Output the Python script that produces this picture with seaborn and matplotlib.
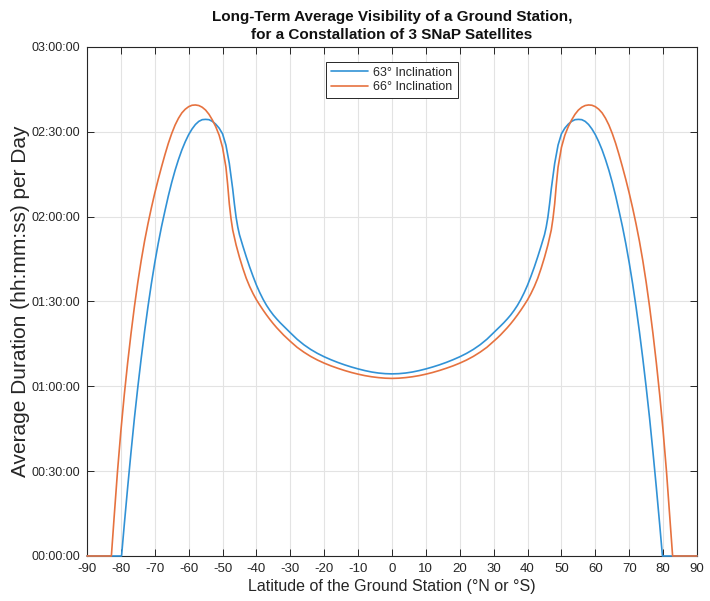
import matplotlib
matplotlib.use('Agg')
import matplotlib.pyplot as plt
import pandas as pd
import seaborn as sns

# Latitude of the ground station (deg) and average daily visibility (minutes)
# 63 deg inclination, southern half (incl. equator)
lat_63_s = ([-90, -79.8] + list(range(-79, -46)) + [-46.5, -46, -45.5]
            + list(range(-45, -29)) + list(range(-28, 1, 2)))
min_63_s = [0, 0,
            11.0, 24.2, 36.8, 48.8, 59.7, 69.9, 79.4, 88.2, 96.3, 103.7, 110.4, 116.5,
            122.0, 127.3, 132.1, 136.4, 140.2, 143.6, 146.5, 149.0, 151.0, 152.6, 153.7,
            154.3, 154.4, 154.3, 153.7, 152.7, 151.3, 149.3, 145.3, 138.8, 129.8,
            124.5, 119.8, 116.3,
            113.6, 109.6, 105.8, 102.2, 98.9, 95.8, 93.1, 90.7, 88.6, 86.8, 85.2, 83.8,
            82.5, 81.3, 80.1, 78.95,
            76.65, 74.7, 73.05, 71.65, 70.45, 69.4, 68.45, 67.6, 66.84, 66.16, 65.56,
            65.06, 64.7, 64.48, 64.4]
# 63 deg inclination, northern half
lat_63_n = (list(range(2, 29, 2)) + list(range(30, 46)) + [45.5, 46, 46.5]
            + list(range(47, 80)) + [79.8, 90])
min_63_n = [64.48, 64.7, 65.06, 65.56, 66.16, 66.84, 67.6, 68.45, 69.4, 70.45, 71.65,
            73.05, 74.7, 76.65,
            78.95, 80.1, 81.3, 82.5, 83.8, 85.2, 86.8, 88.6, 90.7, 93.1, 95.8, 98.9,
            102.2, 105.8, 109.6, 113.6,
            116.3, 119.8, 124.5,
            129.8, 138.8, 145.3, 149.3, 151.3, 152.7, 153.7, 154.3, 154.4, 154.3, 153.7,
            152.6, 151.0, 149.0, 146.5, 143.6, 140.2, 136.4, 132.1, 127.3, 122.0, 116.5,
            110.4, 103.7, 96.3, 88.2, 79.4, 69.9, 59.7, 48.8, 36.8, 24.2, 11.0,
            0, 0]

# 66 deg inclination, southern half (incl. equator)
lat_66_s = ([-90, -82.8] + list(range(-82, -48)) + [-48.5, -48, -47.5, -47]
            + list(range(-46, -29)) + list(range(-28, 1, 2)))
min_66_s = [0, 0,
            13.5, 29.8, 44.2, 56.9, 68.3, 78.7, 88.2, 96.8, 104.5, 111.4, 117.5, 123.1,
            128.3, 133.1, 137.6, 141.9, 145.9, 149.4, 152.4, 154.8, 156.7, 158.0, 158.9,
            159.4, 159.5, 159.3, 158.7, 157.7, 156.2, 154.2, 151.8, 148.8, 144.5, 137.5,
            131.5, 124.5, 119.3, 115.3,
            110.0, 105.6, 101.7, 98.2, 95.3, 92.8, 90.6, 88.7, 86.9, 85.2, 83.6, 82.1,
            80.7, 79.4, 78.15, 77.0, 75.9,
            73.8, 72.08, 70.58, 69.3, 68.2, 67.23, 66.38, 65.6, 64.9, 64.3, 63.78,
            63.38, 63.08, 62.88, 62.8]
# 66 deg inclination, northern half
lat_66_n = (list(range(2, 29, 2)) + list(range(30, 47)) + [47, 47.5, 48, 48.5]
            + list(range(49, 83)) + [82.8, 90])
min_66_n = [62.88, 63.08, 63.38, 63.78, 64.3, 64.9, 65.6, 66.38, 67.23, 68.2, 69.3,
            70.58, 72.08, 73.8,
            75.9, 77.0, 78.15, 79.4, 80.7, 82.1, 83.6, 85.2, 86.9, 88.7, 90.6, 92.8,
            95.3, 98.2, 101.7, 105.6, 110.0,
            115.3, 119.3, 124.5, 131.5,
            137.5, 144.5, 148.8, 151.8, 154.2, 156.2, 157.7, 158.7, 159.3, 159.5, 159.4,
            158.9, 158.0, 156.7, 154.8, 152.4, 149.4, 145.9, 141.9, 137.6, 133.1, 128.3,
            123.1, 117.5, 111.4, 104.5, 96.8, 88.2, 78.7, 68.3, 56.9, 44.2, 29.8, 13.5,
            0, 0]

series_names = ['63\u00b0 Inclination', '66\u00b0 Inclination']
line_colors = ['#3192d6', '#e6723f']

x_ticks = list(range(-90, 91, 10))
y_ticks = [0, 30, 60, 90, 120, 150, 180]
y_tick_labels = ['00:00:00', '00:30:00', '01:00:00', '01:30:00',
                 '02:00:00', '02:30:00', '03:00:00']

# Long-form table for seaborn
df = pd.concat([
    pd.DataFrame({'lat': lat_63_s + lat_63_n, 'minutes': min_63_s + min_63_n,
                  'series': series_names[0]}),
    pd.DataFrame({'lat': lat_66_s + lat_66_n, 'minutes': min_66_s + min_66_n,
                  'series': series_names[1]}),
], ignore_index=True)

sns.set_theme(style='ticks')
plt.rcParams['font.family'] = ['Liberation Sans', 'DejaVu Sans']

fig = plt.figure(figsize=(7.1, 6.01), dpi=100)
ax = fig.add_axes([0.1225, 0.0749, 0.8592, 0.8469])

sns.lineplot(data=df, x='lat', y='minutes', hue='series',
             palette=dict(zip(series_names, line_colors)),
             estimator=None, sort=False, linewidth=1.2, ax=ax)
# let the flat zero parts sit on top of the bottom spine
for ln in ax.lines:
    ln.set_clip_on(False)
    ln.set_zorder(3)

ax.set_xlim(-90, 90)
ax.set_ylim(0, 180)
ax.set_xticks(x_ticks)
ax.set_xticklabels([str(t) for t in x_ticks])
ax.set_yticks(y_ticks)
ax.set_yticklabels(y_tick_labels)
ax.grid(True, color='#e3e3e3', linewidth=0.8)
ax.set_axisbelow(True)

ax.tick_params(direction='in', top=True, right=True, length=5, width=0.7,
               colors='#262626', pad=5)
ax.tick_params(axis='x', labelsize=9.5)
ax.tick_params(axis='y', labelsize=9)
for s in ax.spines.values():
    s.set_color('#262626')
    s.set_linewidth(0.8)

ax.set_xlabel('Latitude of the Ground Station (\u00b0N or \u00b0S)', fontsize=11.5,
              color='#262626', labelpad=3)
ax.set_ylabel('Average Duration (hh:mm:ss) per Day', fontsize=15,
              color='#262626', labelpad=1)
ax.set_title('Long-Term Average Visibility of a Ground Station,\nfor a Constallation of 3 SNaP Satellites',
             fontsize=11, fontweight='bold', color='#111111', pad=6, linespacing=1.35)

leg = ax.legend(title=None, loc='upper center', bbox_to_anchor=(0.5, 0.971),
                borderaxespad=0, frameon=True, fancybox=False, framealpha=1,
                fontsize=9, handlelength=2.9, handletextpad=0.45,
                borderpad=0.4, labelspacing=0.2)
leg.get_frame().set_edgecolor('#262626')
leg.get_frame().set_linewidth(0.7)

fig.savefig('out.png', dpi=100)
